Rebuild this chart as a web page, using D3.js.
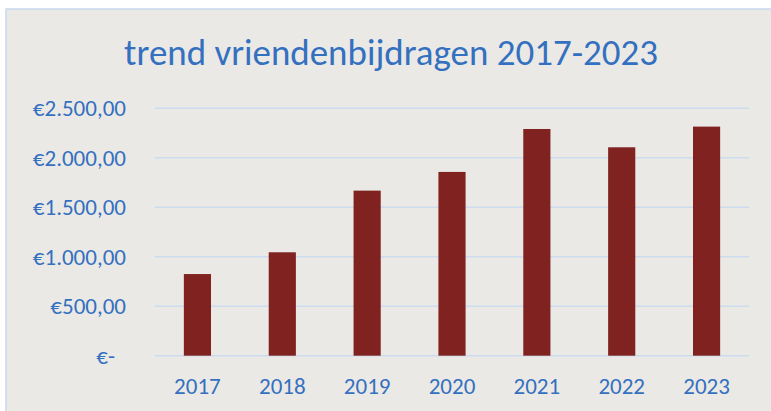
<!DOCTYPE html>
<html>
<head>
<meta charset="utf-8">
<script src="https://cdn.jsdelivr.net/npm/d3@7"></script>
<style>
  html, body { margin: 0; padding: 0; background: #fff; }
  svg { display: block; }
</style>
</head>
<body>
<div id="chart"></div>
<script>
// data
const years = ["2017", "2018", "2019", "2020", "2021", "2022", "2023"];
const amounts = [825, 1045, 1668, 1857, 2291, 2106, 2315];
const yTicks = [0, 500, 1000, 1500, 2000, 2500];
const title = "trend vriendenbijdragen 2017-2023";

const width = 771, height = 411;
const margin = {top: 108.3, right: 22, bottom: 55.3, left: 155};
const blue = "#3470c0";
const font = "Carlito, Calibri, Lato, sans-serif";

const svg = d3.select("#chart").append("svg")
    .attr("width", width)
    .attr("height", height);

// chart area with light blue frame
svg.append("rect")
    .attr("x", 6).attr("y", 9)
    .attr("width", width + 10).attr("height", height + 10)
    .attr("fill", "#ebe9e5")
    .attr("stroke", "#c8d8ee")
    .attr("stroke-width", 1.5);

const x = d3.scaleBand()
    .domain(years)
    .range([margin.left, width - margin.right])
    .paddingInner(0.68)
    .paddingOuter(0.34);

const y = d3.scaleLinear()
    .domain([0, 2500])
    .range([height - margin.bottom, margin.top]);

const euro = v => v === 0 ? "€-" :
    "€" + d3.format(",.2f")(v).replace(/,/g, "#").replace(".", ",").replace(/#/g, ".");

// gridlines
svg.append("g")
    .selectAll("line")
    .data(yTicks)
    .join("line")
    .attr("x1", margin.left)
    .attr("x2", width - margin.right)
    .attr("y1", d => y(d))
    .attr("y2", d => y(d))
    .attr("stroke", "#cddbef")
    .attr("stroke-width", 1.5);

// y axis labels
const yAxis = svg.append("g")
    .attr("transform", `translate(126,0)`)
    .call(d3.axisLeft(y).tickValues(yTicks).tickFormat(euro).tickSize(0).tickPadding(0));
yAxis.select(".domain").remove();
yAxis.selectAll("text")
    .attr("fill", blue)
    .attr("font-family", font)
    .attr("font-size", 23)
    .attr("dx", d => d === 0 ? -11 : 0);

// bars
svg.append("g")
    .selectAll("rect")
    .data(amounts)
    .join("rect")
    .attr("x", (d, i) => x(years[i]))
    .attr("y", d => y(d))
    .attr("width", x.bandwidth())
    .attr("height", d => y(0) - y(d))
    .attr("fill", "#80221f");

// x axis labels
const xAxis = svg.append("g")
    .attr("transform", `translate(0,${y(0)})`)
    .call(d3.axisBottom(x).tickSize(0).tickPadding(25));
xAxis.select(".domain").remove();
xAxis.selectAll("text")
    .attr("fill", blue)
    .attr("font-family", font)
    .attr("font-size", 23)
    .attr("dy", "0.6em");

// title, fitted to the width it has in the picture
const t = svg.append("text")
    .attr("x", 391)
    .attr("y", 65)
    .attr("text-anchor", "middle")
    .attr("fill", blue)
    .attr("font-family", font)
    .attr("font-size", 30)
    .text(title);
const w = t.node().getComputedTextLength();
t.attr("font-size", 30 * 534 / w);
</script>
</body>
</html>
